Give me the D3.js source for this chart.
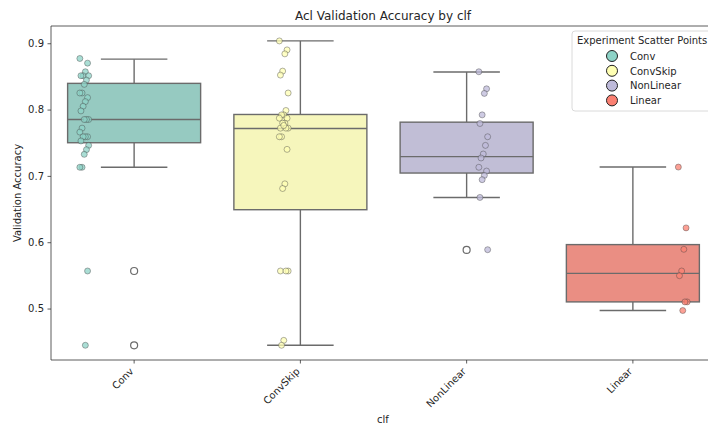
<!DOCTYPE html>
<html>
<head>
<meta charset="utf-8">
<script src="https://cdn.jsdelivr.net/npm/d3@7"></script>
<style>
  body { margin: 0; background: #fff; }
  text { font-family: "DejaVu Sans", sans-serif; fill: #262626; }
</style>
</head>
<body>
<svg id="chart" width="708" height="427"></svg>
<script>
// categories and colours (Set3)
const categories = ["Conv", "ConvSkip", "NonLinear", "Linear"];
const pointColors = ["#8dd3c7", "#ffffb3", "#bebada", "#fb8072"];
const boxColors = ["#96cac1", "#f6f6bc", "#c1bed6", "#ea8e83"];

// box stats: [whiskerLow, q1, median, q3, whiskerHigh]
const boxConv = [0.713, 0.750, 0.785, 0.8395, 0.876];
const boxConvSkip = [0.4446, 0.649, 0.7714, 0.7926, 0.9035];
const boxNonLinear = [0.6675, 0.7043, 0.729, 0.781, 0.8566];
const boxLinear = [0.497, 0.510, 0.553, 0.5964, 0.7133];
const boxStats = [boxConv, boxConvSkip, boxNonLinear, boxLinear];

// box outliers
const outConv = [0.5566, 0.4446];
const outConvSkip = [];
const outNonLinear = [0.5883];
const outLinear = [];
const outliers = [outConv, outConvSkip, outNonLinear, outLinear];

// experiment scatter points
const ptsConv = [0.877, 0.870, 0.857, 0.851, 0.851, 0.851, 0.8445, 0.838, 0.825, 0.825,
  0.818, 0.812, 0.805, 0.798, 0.785, 0.785, 0.785, 0.772, 0.766, 0.759, 0.759, 0.759,
  0.7527, 0.746, 0.7396, 0.7325, 0.713, 0.713, 0.5566, 0.4446];
const ptsConvSkip = [0.9035, 0.890, 0.884, 0.858, 0.852, 0.825, 0.7986, 0.792, 0.792,
  0.787, 0.787, 0.7795, 0.7795, 0.772, 0.772, 0.772, 0.776, 0.759, 0.759, 0.740,
  0.688, 0.681, 0.5566, 0.5566, 0.5566, 0.452, 0.4446];
const ptsNonLinear = [0.857, 0.8313, 0.8244, 0.792, 0.779, 0.759, 0.746, 0.733, 0.727,
  0.713, 0.7073, 0.7007, 0.6943, 0.6675, 0.5887];
const ptsLinear = [0.7133, 0.6216, 0.5893, 0.5566, 0.5495, 0.510, 0.510, 0.497];
const points = [ptsConv, ptsConvSkip, ptsNonLinear, ptsLinear];

const yTicks = [0.5, 0.6, 0.7, 0.8, 0.9];

const margin = {left: 51, top: 26, right: -8, bottom: 67};
const width = 708, height = 427;
const svg = d3.select("#chart");

const x = d3.scaleBand().domain(categories).range([margin.left, width - margin.right]);
const y = d3.scaleLinear().domain([0.4224, 0.926]).range([height - margin.bottom, margin.top]);
const bw = x.bandwidth();
const edge = "#6b6b6b";

// boxes
categories.forEach((c, i) => {
  const [lo, q1, med, q3, hi] = boxStats[i];
  const cx = x(c) + bw / 2;
  const boxW = bw * 0.8;
  const g = svg.append("g");
  g.append("line").attr("x1", cx).attr("x2", cx).attr("y1", y(q3)).attr("y2", y(hi))
    .attr("stroke", edge).attr("stroke-width", 1.4);
  g.append("line").attr("x1", cx).attr("x2", cx).attr("y1", y(q1)).attr("y2", y(lo))
    .attr("stroke", edge).attr("stroke-width", 1.4);
  [lo, hi].forEach(v => {
    g.append("line").attr("x1", cx - boxW / 4).attr("x2", cx + boxW / 4)
      .attr("y1", y(v)).attr("y2", y(v)).attr("stroke", edge).attr("stroke-width", 1.4);
  });
  g.append("rect").attr("x", cx - boxW / 2).attr("width", boxW)
    .attr("y", y(q3)).attr("height", y(q1) - y(q3))
    .attr("fill", boxColors[i]).attr("stroke", edge).attr("stroke-width", 1.4);
  g.append("line").attr("x1", cx - boxW / 2).attr("x2", cx + boxW / 2)
    .attr("y1", y(med)).attr("y2", y(med)).attr("stroke", edge).attr("stroke-width", 1.4);
  g.selectAll("circle.out").data(outliers[i]).enter().append("circle")
    .attr("cx", cx).attr("cy", d => y(d)).attr("r", 3.5)
    .attr("fill", "none").attr("stroke", edge).attr("stroke-width", 1.2);
});

// dodged strip points
const dodge = [-0.3, -0.1, 0.1, 0.3];
categories.forEach((c, i) => {
  const cx = x(c) + bw / 2 + dodge[i] * bw;
  svg.append("g").selectAll("circle").data(points[i]).enter().append("circle")
    .attr("cx", (d, j) => cx + (((j * 7) % 9) - 4) * 1.1)
    .attr("cy", d => y(d)).attr("r", 3)
    .attr("fill", pointColors[i]).attr("fill-opacity", 0.75)
    .attr("stroke", "#444").attr("stroke-opacity", 0.7).attr("stroke-width", 0.6);
});

// axes
const yAxis = svg.append("g").attr("transform", `translate(${margin.left},0)`)
  .call(d3.axisLeft(y).tickValues(yTicks).tickFormat(d3.format(".1f")).tickSize(3.5).tickPadding(3.5));
const xAxis = svg.append("g").attr("transform", `translate(0,${height - margin.bottom})`)
  .call(d3.axisBottom(x).tickSize(3.5).tickPadding(3));
[yAxis, xAxis].forEach(a => {
  a.select(".domain").remove();
  a.selectAll("line").attr("stroke", "#333").attr("stroke-width", 0.8);
  a.selectAll("text").attr("font-size", 10).attr("fill", "#262626")
    .style("font-family", "DejaVu Sans, sans-serif");
});
xAxis.selectAll("text")
  .attr("text-anchor", "end").attr("dy", null).attr("y", 0)
  .attr("transform", "translate(0,12) rotate(-45)");

// spines
const sp = svg.append("g").attr("stroke", "#333").attr("stroke-width", 0.8);
sp.append("line").attr("x1", margin.left).attr("x2", margin.left)
  .attr("y1", margin.top).attr("y2", height - margin.bottom);
sp.append("line").attr("x1", margin.left).attr("x2", width)
  .attr("y1", height - margin.bottom).attr("y2", height - margin.bottom);
sp.append("line").attr("x1", margin.left).attr("x2", width)
  .attr("y1", margin.top).attr("y2", margin.top);

// titles
svg.append("text").attr("x", 383).attr("y", 20).attr("text-anchor", "middle")
  .attr("font-size", 12).text("Acl Validation Accuracy by clf");
svg.append("text").attr("x", 383).attr("y", 423).attr("text-anchor", "middle")
  .attr("font-size", 10).text("clf");
svg.append("text").attr("transform", `translate(21,${(margin.top + height - margin.bottom) / 2}) rotate(-90)`)
  .attr("text-anchor", "middle").attr("font-size", 10).text("Validation Accuracy");

// legend
const lg = svg.append("g");
lg.append("rect").attr("x", 572).attr("y", 31).attr("width", 150).attr("height", 80)
  .attr("rx", 3).attr("fill", "#fff").attr("fill-opacity", 0.8)
  .attr("stroke", "#d0d0d0").attr("stroke-width", 0.8);
lg.append("text").attr("x", 577).attr("y", 44).attr("font-size", 10)
  .text("Experiment Scatter Points");
categories.forEach((c, i) => {
  const cy = 56 + i * 14.8;
  lg.append("circle").attr("cx", 612).attr("cy", cy).attr("r", 5.5)
    .attr("fill", pointColors[i]).attr("stroke", "#222").attr("stroke-width", 1);
  lg.append("text").attr("x", 630).attr("y", cy + 3.8).attr("font-size", 10).text(c);
});
</script>
</body>
</html>
